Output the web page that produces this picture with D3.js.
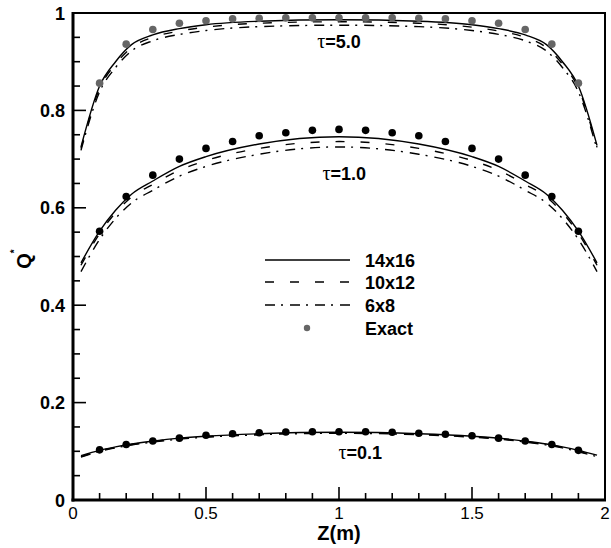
<!DOCTYPE html>
<html>
<head>
<meta charset="utf-8">
<script src="https://cdn.jsdelivr.net/npm/d3@7"></script>
<style>
  body { margin: 0; background: #fff; }
  svg { display: block; font-family: "Liberation Sans", Arial, Helvetica, sans-serif; }
</style>
</head>
<body>
<div id="chart"></div>
<script>
// Exact solution points
var zExact = [0.1, 0.2, 0.3, 0.4, 0.5, 0.6, 0.7, 0.8, 0.9, 1.0, 1.1, 1.2, 1.3, 1.4, 1.5, 1.6, 1.7, 1.8, 1.9];
var exactT5 = [0.856, 0.936, 0.966, 0.979, 0.984, 0.988, 0.989, 0.990, 0.990, 0.990, 0.990, 0.990, 0.989, 0.988, 0.984, 0.979, 0.966, 0.936, 0.856];
var exactT1 = [0.552, 0.623, 0.667, 0.700, 0.722, 0.736, 0.748, 0.754, 0.759, 0.761, 0.759, 0.754, 0.748, 0.736, 0.722, 0.700, 0.667, 0.623, 0.552];
var exactT01 = [0.103, 0.114, 0.121, 0.127, 0.133, 0.136, 0.138, 0.1395, 0.140, 0.140, 0.140, 0.139, 0.137, 0.135, 0.132, 0.127, 0.121, 0.114, 0.102];

// Numerical solutions (grid 14x16, 10x12, 6x8)
var zGrid = [0.03, 0.1, 0.16, 0.22, 0.3, 0.4, 0.5, 0.7, 1.0, 1.3, 1.5, 1.6, 1.7, 1.78, 1.84, 1.9, 1.97];
var t5_14x16 = [0.725, 0.850, 0.900, 0.935, 0.955, 0.968, 0.976, 0.983, 0.986, 0.983, 0.976, 0.968, 0.955, 0.935, 0.900, 0.850, 0.728];
var t5_10x12 = [0.722, 0.845, 0.895, 0.929, 0.950, 0.963, 0.971, 0.979, 0.982, 0.979, 0.971, 0.963, 0.950, 0.929, 0.895, 0.845, 0.724];
var t5_6x8   = [0.718, 0.838, 0.888, 0.922, 0.943, 0.956, 0.964, 0.972, 0.975, 0.972, 0.964, 0.956, 0.943, 0.922, 0.888, 0.838, 0.720];
var t1_14x16 = [0.487, 0.552, 0.595, 0.628, 0.655, 0.685, 0.705, 0.731, 0.746, 0.731, 0.705, 0.685, 0.655, 0.628, 0.595, 0.552, 0.487];
var t1_10x12 = [0.482, 0.547, 0.590, 0.622, 0.648, 0.677, 0.697, 0.722, 0.736, 0.722, 0.697, 0.677, 0.648, 0.622, 0.590, 0.547, 0.482];
var t1_6x8   = [0.469, 0.535, 0.578, 0.610, 0.636, 0.665, 0.685, 0.710, 0.725, 0.710, 0.685, 0.665, 0.636, 0.610, 0.578, 0.535, 0.469];
var t01_14x16 = [0.091, 0.102, 0.109, 0.115, 0.121, 0.127, 0.131, 0.136, 0.139, 0.136, 0.131, 0.127, 0.121, 0.115, 0.109, 0.102, 0.092];
var t01_10x12 = [0.089, 0.101, 0.108, 0.114, 0.120, 0.126, 0.130, 0.135, 0.138, 0.135, 0.130, 0.126, 0.120, 0.114, 0.108, 0.100, 0.090];
var t01_6x8   = [0.088, 0.100, 0.107, 0.113, 0.119, 0.125, 0.129, 0.134, 0.137, 0.134, 0.129, 0.125, 0.119, 0.113, 0.107, 0.099, 0.089];

var xMajorTicks = [0, 0.5, 1, 1.5, 2];
var xMinorTicks = [0.1, 0.2, 0.3, 0.4, 0.6, 0.7, 0.8, 0.9, 1.1, 1.2, 1.3, 1.4, 1.6, 1.7, 1.8, 1.9];
var yMajorTicks = [0, 0.2, 0.4, 0.6, 0.8, 1];
var yMinorTicks = [0.05, 0.1, 0.15, 0.25, 0.3, 0.35, 0.45, 0.5, 0.55, 0.65, 0.7, 0.75, 0.85, 0.9, 0.95];

var legendLabels = ["14x16", "10x12", "6x8", "Exact"];
var tauLabels = [
  { text: "=5.0", z: 1.0, q: 0.928 },
  { text: "=1.0", z: 1.02, q: 0.658 },
  { text: "=0.1", z: 1.08, q: 0.084 }
];

var W = 611, H = 548;
var svg = d3.select('#chart').append('svg')
  .attr('width', W)
  .attr('height', H);

var x = d3.scaleLinear().domain([0, 2]).range([73, 605]);
var y = d3.scaleLinear().domain([0, 1]).range([500, 13]);

var styles = [
  { dash: null },
  { dash: '9,16' },
  { dash: '10,6,2,7' }
];

// curves
var line = d3.line()
  .x(function (d) { return x(d[0]); })
  .y(function (d) { return y(d[1]); })
  .curve(d3.curveMonotoneX);

var sets = [
  [t5_14x16, t5_10x12, t5_6x8],
  [t1_14x16, t1_10x12, t1_6x8],
  [t01_14x16, t01_10x12, t01_6x8]
];

sets.forEach(function (set) {
  set.forEach(function (vals, k) {
    svg.append('path')
      .datum(zGrid.map(function (z, i) { return [z, vals[i]]; }))
      .attr('d', line)
      .attr('fill', 'none')
      .attr('stroke', '#000')
      .attr('stroke-width', 1.4)
      .attr('stroke-dasharray', styles[k].dash);
  });
});

// exact points
var exactSets = [
  { vals: exactT5, color: '#666666' },
  { vals: exactT1, color: '#000000' },
  { vals: exactT01, color: '#000000' }
];
exactSets.forEach(function (s) {
  svg.append('g').selectAll('circle')
    .data(zExact.map(function (z, i) { return [z, s.vals[i]]; }))
    .enter()
    .append('circle')
    .attr('cx', function (d) { return x(d[0]); })
    .attr('cy', function (d) { return y(d[1]); })
    .attr('r', 3.8)
    .attr('fill', s.color);
});

// ticks (pointing inward)
var ticks = svg.append('g');
function tickLines(vals, isX, len) {
  ticks.append('g').selectAll('line').data(vals).enter().append('line')
    .attr('x1', function (d) { return isX ? x(d) : 73; })
    .attr('x2', function (d) { return isX ? x(d) : 73 + len; })
    .attr('y1', function (d) { return isX ? 500 : y(d); })
    .attr('y2', function (d) { return isX ? 500 - len : y(d); })
    .attr('stroke', '#000')
    .attr('stroke-width', 1.6);
}
tickLines(xMajorTicks, true, 13);
tickLines(xMinorTicks, true, 7);
tickLines(yMajorTicks, false, 13);
tickLines(yMinorTicks, false, 7);

// tick labels
svg.append('g').selectAll('text').data(xMajorTicks).enter().append('text')
  .attr('x', function (d) { return x(d); })
  .attr('y', 519)
  .attr('text-anchor', 'middle')
  .attr('font-size', 17)
  .text(function (d) { return d; });
svg.append('g').selectAll('text').data(yMajorTicks).enter().append('text')
  .attr('x', 65)
  .attr('y', function (d) { return y(d) + 6.5; })
  .attr('text-anchor', 'end')
  .attr('font-size', 18)
  .attr('font-weight', 'bold')
  .text(function (d) { return d; });

// frame
svg.append('line').attr('x1', 73).attr('x2', 606).attr('y1', 13).attr('y2', 13)
  .attr('stroke', '#000').attr('stroke-width', 2);
svg.append('line').attr('x1', 605).attr('x2', 605).attr('y1', 12).attr('y2', 501)
  .attr('stroke', '#000').attr('stroke-width', 2);
svg.append('line').attr('x1', 71.5).attr('x2', 606).attr('y1', 500).attr('y2', 500)
  .attr('stroke', '#000').attr('stroke-width', 3);
svg.append('line').attr('x1', 73).attr('x2', 73).attr('y1', 12).attr('y2', 501.5)
  .attr('stroke', '#000').attr('stroke-width', 3);

// axis titles
svg.append('text')
  .attr('x', x(1))
  .attr('y', 540)
  .attr('text-anchor', 'middle')
  .attr('font-size', 20)
  .attr('font-weight', 'bold')
  .text('Z(m)');

var qt = svg.append('text')
  .attr('transform', 'translate(31,259) rotate(-90)')
  .attr('text-anchor', 'middle')
  .attr('font-size', 20)
  .attr('font-weight', 'bold');
qt.append('tspan').text('Q');
qt.append('tspan').attr('dy', -13).attr('font-size', 10).text('*');

// tau labels
tauLabels.forEach(function (t) {
  var tx = svg.append('text')
    .attr('x', x(t.z))
    .attr('y', y(t.q))
    .attr('text-anchor', 'middle')
    .attr('font-size', 18)
    .attr('font-weight', 'bold');
  tx.append('tspan')
    .attr('font-family', '"Liberation Serif", "DejaVu Serif", serif')
    .attr('font-weight', 'normal')
    .attr('font-size', 20)
    .text('τ');
  tx.append('tspan').text(t.text);
});

// legend
var legend = svg.append('g');
var rowY = [260, 282, 305, 328];
legendLabels.forEach(function (lab, i) {
  if (i < 3) {
    legend.append('line')
      .attr('x1', 265).attr('x2', 350)
      .attr('y1', rowY[i]).attr('y2', rowY[i])
      .attr('stroke', '#000')
      .attr('stroke-width', 1.4)
      .attr('stroke-dasharray', styles[i].dash);
  } else {
    legend.append('circle')
      .attr('cx', 307).attr('cy', rowY[i]).attr('r', 3.2)
      .attr('fill', '#666666');
  }
  legend.append('text')
    .attr('x', 365)
    .attr('y', rowY[i] + 6.5)
    .attr('font-size', 18)
    .attr('font-weight', 'bold')
    .text(lab);
});
</script>
</body>
</html>
